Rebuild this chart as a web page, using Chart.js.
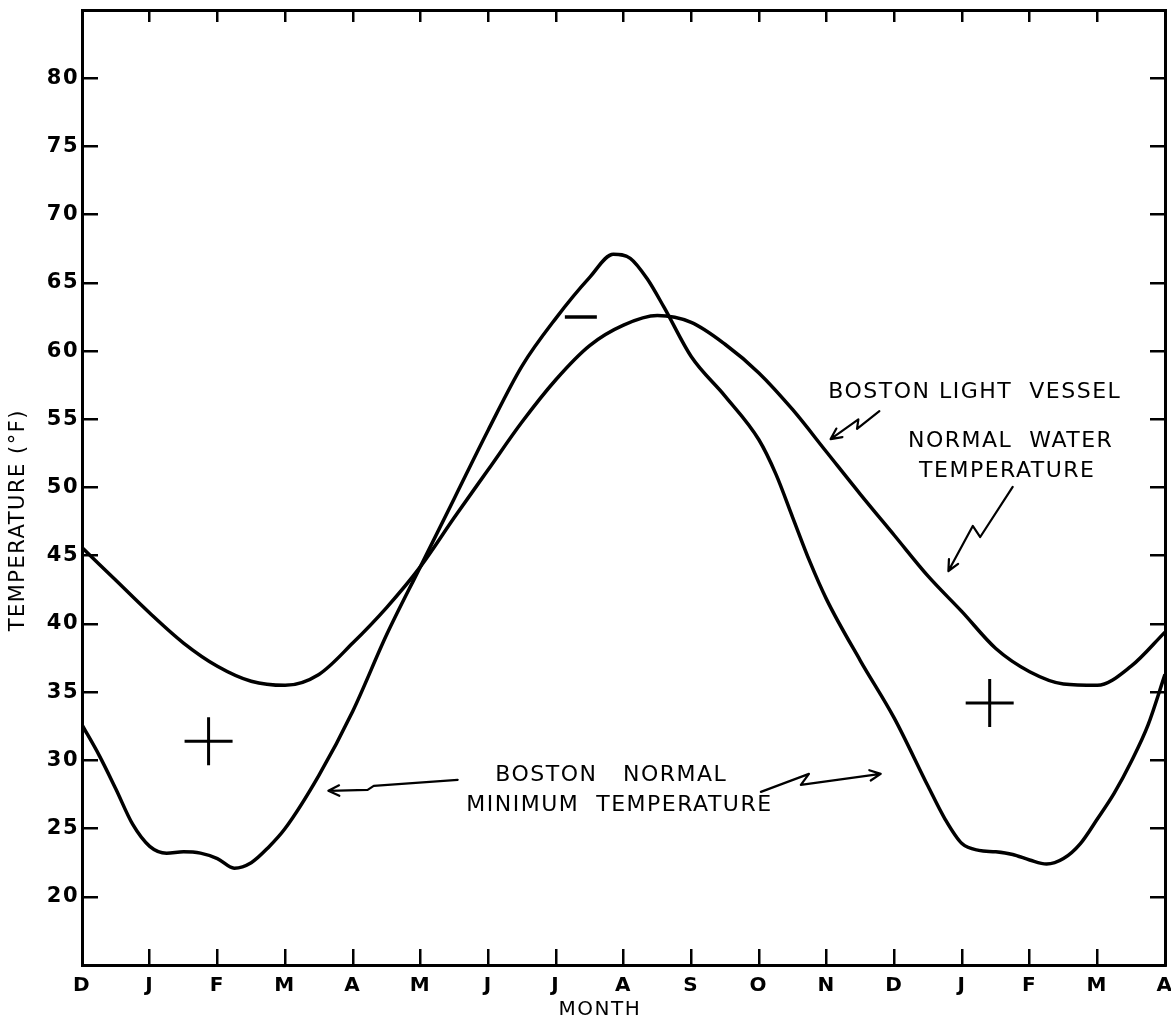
<!DOCTYPE html>
<html>
<head>
<meta charset="utf-8">
<script src="https://cdn.jsdelivr.net/npm/chart.js@4.4.0/dist/chart.umd.min.js"></script>
<style>
  html, body { margin: 0; padding: 0; background: #fff; }
  canvas { display: block; }
</style>
</head>
<body>
<canvas id="tempChart" width="1171" height="1023"></canvas>
<script>
// month ticks, D through the following A
var monthLabels = ["D", "J", "F", "M", "A", "M", "J", "J", "A", "S", "O", "N", "D", "J", "F", "M", "A"];
var tempTicks = [20, 25, 30, 35, 40, 45, 50, 55, 60, 65, 70, 75, 80];

// Boston Light Vessel normal water temperature
var waterMonths = [0, 0.5, 1, 1.5, 2, 2.5, 3, 3.5, 4, 4.5, 5, 5.5, 6, 6.5, 7, 7.5, 8, 8.5, 9, 9.5, 10, 10.5, 11, 11.5, 12, 12.5, 13, 13.5, 14, 14.5, 15, 15.5, 16];
var waterTemps = [45.6, 43.2, 40.8, 38.6, 36.9, 35.8, 35.5, 36.3, 38.6, 41.2, 44.2, 47.8, 51.3, 54.8, 57.9, 60.4, 61.9, 62.6, 62.1, 60.5, 58.4, 55.7, 52.6, 49.5, 46.5, 43.5, 40.9, 38.2, 36.5, 35.6, 35.5, 36.9, 39.4];

// Boston normal minimum temperature
var minMonths = [0, 0.25, 0.5, 0.75, 1, 1.25, 1.5, 1.75, 2, 2.25, 2.5, 2.75, 3, 3.5, 4, 4.5, 5, 5.5, 6, 6.5, 7, 7.5, 7.85, 8.1, 8.35, 8.6, 9, 9.5, 10, 10.25, 10.5, 10.75, 11, 11.5, 12, 12.5, 12.75, 13, 13.25, 13.5, 13.75, 14, 14.25, 14.5, 14.75, 15, 15.25, 15.5, 15.75, 16];
var minTemps = [32.6, 30.4, 27.9, 25.3, 23.7, 23.2, 23.3, 23.2, 22.8, 22.1, 22.5, 23.6, 25.0, 28.9, 33.6, 39.2, 44.2, 49.2, 54.2, 58.9, 62.4, 65.4, 67.1, 66.8, 65.3, 63.2, 59.6, 56.7, 53.5, 51.0, 47.8, 44.6, 41.8, 37.3, 33.1, 28.1, 25.7, 23.9, 23.4, 23.3, 23.1, 22.7, 22.4, 22.8, 23.9, 25.7, 27.6, 29.9, 32.6, 36.3];

// hand marks on the sheet (two crosses, one dash)
var markMonths = [1.87, 13.41, 7.37];
var markTemps = [31.4, 34.2, 62.5];

function toPoints(xs, ys) {
  return xs.map(function (x, i) { return { x: x, y: ys[i] }; });
}

// lettering and arrows, placed in month / degree units
var notes = [
  { text: "BOSTON LIGHT  VESSEL", m: 13.19, t: 57.0 },
  { text: "NORMAL  WATER", m: 13.72, t: 53.4 },
  { text: "TEMPERATURE", m: 13.67, t: 51.2 },
  { text: "BOSTON   NORMAL", m: 7.82, t: 28.9 },
  { text: "MINIMUM  TEMPERATURE", m: 7.94, t: 26.7 }
];
var arrows = [
  [[11.78, 55.6], [11.45, 54.3], [11.47, 55.0], [11.06, 53.55]],
  [[13.75, 50.04], [13.27, 46.37], [13.16, 47.18], [12.80, 43.88]],
  [[5.55, 28.57], [4.31, 28.13], [4.22, 27.84], [3.64, 27.77]],
  [[10.03, 27.69], [10.74, 29.01], [10.62, 28.2], [11.80, 29.01]]
];

var spacingPlugin = {
  id: "spacing",
  beforeDraw: function (chart) {
    chart.ctx.letterSpacing = "1.5px";
  }
};

var notesPlugin = {
  id: "notes",
  afterDatasetsDraw: function (chart) {
    var ctx = chart.ctx, x = chart.scales.x, y = chart.scales.y;
    ctx.save();
    ctx.fillStyle = "#000";
    ctx.strokeStyle = "#000";
    ctx.font = '22px "DejaVu Sans"';
    ctx.letterSpacing = "1.5px";
    ctx.textAlign = "center";
    ctx.textBaseline = "middle";
    notes.forEach(function (n) {
      ctx.fillText(n.text, x.getPixelForValue(n.m), y.getPixelForValue(n.t));
    });
    ctx.lineWidth = 2.2;
    ctx.lineJoin = "round";
    ctx.lineCap = "round";
    arrows.forEach(function (a) {
      var pts = a.map(function (p) { return [x.getPixelForValue(p[0]), y.getPixelForValue(p[1])]; });
      ctx.beginPath();
      ctx.moveTo(pts[0][0], pts[0][1]);
      for (var i = 1; i < pts.length; i++) ctx.lineTo(pts[i][0], pts[i][1]);
      var h = pts[pts.length - 1], p = pts[pts.length - 2];
      var ang = Math.atan2(h[1] - p[1], h[0] - p[0]);
      [-0.45, 0.45].forEach(function (s) {
        ctx.moveTo(h[0], h[1]);
        ctx.lineTo(h[0] - 12 * Math.cos(ang + s), h[1] - 12 * Math.sin(ang + s));
      });
      ctx.stroke();
    });
    ctx.restore();
  }
};

function monthTicks(s) {
  s.ticks = monthLabels.map(function (_, i) { return { value: i }; });
}
function tempTickList(s) {
  s.ticks = tempTicks.map(function (v) { return { value: v }; });
}
function noPad(s) {
  s.paddingLeft = 0; s.paddingRight = 0; s.paddingTop = 0; s.paddingBottom = 0;
}

var axisGrid = { drawOnChartArea: false, color: "#000", tickColor: "#000", lineWidth: 2.5, tickWidth: 2.5 };
var axisBorder = { display: true, color: "#000", width: 3 };

Chart.defaults.font.family = '"DejaVu Sans", sans-serif';
Chart.defaults.color = "#000";

new Chart(document.getElementById("tempChart"), {
  type: "line",
  data: {
    datasets: [
      {
        label: "Boston Light Vessel normal water temperature",
        data: toPoints(waterMonths, waterTemps),
        borderColor: "#000",
        borderWidth: 3.5,
        pointRadius: 0,
        cubicInterpolationMode: "monotone"
      },
      {
        label: "Boston normal minimum temperature",
        data: toPoints(minMonths, minTemps),
        borderColor: "#000",
        borderWidth: 3.5,
        pointRadius: 0,
        cubicInterpolationMode: "monotone"
      },
      {
        label: "marks",
        data: toPoints(markMonths, markTemps),
        showLine: false,
        borderColor: "#000",
        pointStyle: ["cross", "cross", "line"],
        pointRadius: [24, 24, 16],
        pointBorderWidth: [3, 3, 3.5],
        pointBorderColor: "#000"
      }
    ]
  },
  options: {
    responsive: false,
    animation: false,
    devicePixelRatio: 1,
    layout: { autoPadding: false, padding: { left: 4, right: 6, top: 10, bottom: 0 } },
    plugins: { legend: { display: false }, tooltip: { enabled: false } },
    scales: {
      x: {
        type: "linear", min: 0, max: 16,
        afterBuildTicks: monthTicks,
        ticks: {
          padding: 25, maxRotation: 0, autoSkip: false,
          font: { size: 20, weight: "bold" },
          callback: function (v, i) { return monthLabels[i]; }
        },
        grid: Object.assign({ tickLength: -16 }, axisGrid),
        border: axisBorder,
        title: { display: true, text: "MONTH      ", font: { size: 20 }, padding: { top: 0, bottom: 1 } },
        afterFit: function (s) { s.height = 58; noPad(s); }
      },
      x2: {
        type: "linear", position: "top", min: 0, max: 16,
        afterBuildTicks: monthTicks,
        ticks: { display: false },
        grid: Object.assign({ tickLength: -12 }, axisGrid),
        border: axisBorder,
        afterFit: function (s) { s.height = 0; noPad(s); }
      },
      y: {
        type: "linear", min: 15, max: 85,
        afterBuildTicks: tempTickList,
        ticks: { padding: 19, font: { size: 21, weight: "bold" } },
        grid: Object.assign({ tickLength: -16 }, axisGrid),
        border: axisBorder,
        title: { display: true, text: "TEMPERATURE (°F)        ", font: { size: 21 }, padding: { top: 2, bottom: 0 } },
        afterFit: function (s) { s.width = 78; noPad(s); }
      },
      y2: {
        type: "linear", position: "right", min: 15, max: 85,
        afterBuildTicks: tempTickList,
        ticks: { display: false },
        grid: Object.assign({ tickLength: -15 }, axisGrid),
        border: axisBorder,
        afterFit: function (s) { s.width = 0; noPad(s); }
      }
    }
  },
  plugins: [spacingPlugin, notesPlugin]
});
</script>
</body>
</html>
